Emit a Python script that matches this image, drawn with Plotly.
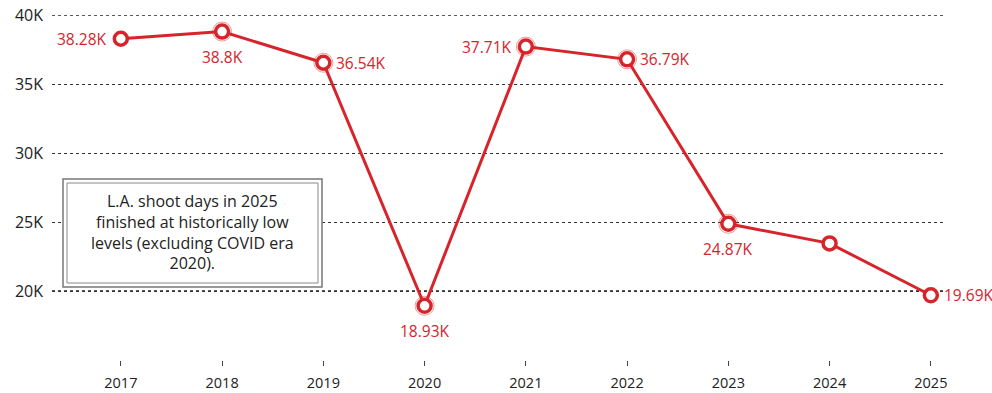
import plotly.graph_objects as go

# Annual L.A. on-location shoot days
years = [2017, 2018, 2019, 2020, 2021, 2022, 2023, 2024, 2025]
shoot_days = [38280, 38800, 36540, 18930, 37710, 36790, 24870, 23450, 19690]
show_label = [True, True, True, True, True, True, True, False, True]
label_side = ["left", "below", "right", "below", "left", "right", "below", "right", "right"]
halo = [False, True, True, True, True, True, True, False, False]

y_ticks = [20000, 25000, 30000, 35000, 40000]
y_tick_text = ["20K", "25K", "30K", "35K", "40K"]

note_text = "L.A. shoot days in 2025<br>finished at historically low<br>levels (excluding COVID era<br>2020)."

RED = "#d7242b"
FONT = "Open Sans"

fig = go.Figure()

# soft rings around highlighted points
hx = [x for x, h in zip(years, halo) if h]
hy = [y for y, h in zip(shoot_days, halo) if h]
fig.add_trace(go.Scatter(
    x=hx, y=hy, mode="markers",
    marker=dict(size=19, color="rgba(0,0,0,0)",
                line=dict(color="rgba(215,36,43,0.45)", width=1)),
    hoverinfo="skip", showlegend=False,
))

fig.add_trace(go.Scatter(
    x=years, y=shoot_days, mode="lines+markers",
    line=dict(color=RED, width=3),
    marker=dict(size=13, color="white", line=dict(color=RED, width=3.5)),
    cliponaxis=False, showlegend=False,
))

# value labels placed beside each point
offsets = {"left": dict(xanchor="right", yanchor="middle", xshift=-12, yshift=0),
           "right": dict(xanchor="left", yanchor="middle", xshift=11, yshift=0),
           "below": dict(xanchor="center", yanchor="middle", xshift=0, yshift=-25)}
for x, v, s, side in zip(years, shoot_days, show_label, label_side):
    if not s:
        continue
    fig.add_annotation(
        x=x, y=v, text=f"{v / 1000:g}K", showarrow=False,
        font=dict(family=FONT, size=15.5, color=RED), **offsets[side],
    )

L, R, T, B = 52, 49, 15, 33
W, H = 992, 393
pw, ph = W - L - R, H - T - B


def px_x(p):
    return (p - L) / pw


def px_y(p):
    return (H - B - p) / ph


shapes = [
    dict(type="line", xref="paper", yref="y", x0=0, x1=1, y0=20000, y1=20000,
         line=dict(color="#222", width=1.6, dash="dot"), layer="below"),
    dict(type="line", xref="paper", yref="y", x0=0, x1=1, y0=40000, y1=40000,
         line=dict(color="#222", width=1.4, dash="dot"), layer="below"),
    dict(type="rect", xref="paper", yref="paper",
         x0=px_x(63), x1=px_x(322), y0=px_y(287), y1=px_y(179),
         line=dict(color="#777", width=1.5), fillcolor="white"),
    dict(type="rect", xref="paper", yref="paper",
         x0=px_x(67), x1=px_x(318), y0=px_y(283), y1=px_y(183),
         line=dict(color="#888", width=1), fillcolor="white"),
]

fig.add_annotation(
    xref="paper", yref="paper", x=px_x(192.5), y=px_y(232),
    xanchor="center", yanchor="middle",
    text=note_text, showarrow=False, align="center",
    font=dict(family=FONT, size=16, color="#222"),
)

fig.update_layout(
    width=W, height=H,
    margin=dict(l=L, r=R, t=T, b=B),
    paper_bgcolor="white", plot_bgcolor="white",
    shapes=shapes,
    xaxis=dict(
        range=[2016.32, 2025.12], tickvals=years, ticktext=[str(y) for y in years],
        showgrid=False, zeroline=False, showline=False, automargin=False,
        ticks="outside", ticklen=5, tickwidth=1, tickcolor="#444",
        ticklabelstandoff=5,
        tickfont=dict(family=FONT, size=14.5, color="#222"),
    ),
    yaxis=dict(
        range=[15000, 40000], tickvals=y_ticks, ticktext=y_tick_text,
        showgrid=True, gridcolor="#333", griddash="dot", gridwidth=1,
        zeroline=False, showline=False, ticks="", automargin=False,
        ticklabelstandoff=8,
        tickfont=dict(family=FONT, size=16, color="#222"),
    ),
)

fig.write_html("out.html")
